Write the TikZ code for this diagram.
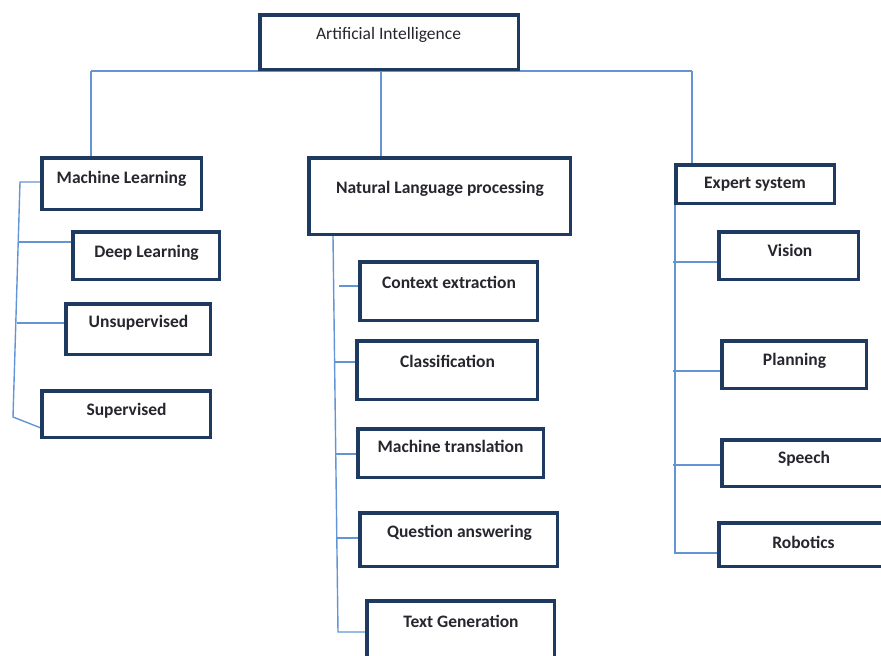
\documentclass[tikz,border=0pt]{standalone}
\usepackage{fontspec}
\setmainfont{Carlito}
\usetikzlibrary{backgrounds}
\definecolor{navy}{HTML}{1F3A60}
\definecolor{lblue}{HTML}{6395D6}
\definecolor{txt}{HTML}{26262E}
\tikzset{
  boxst/.style={draw=navy, line width=3.5pt, fill=white, inner sep=0pt, outer sep=0pt},
  lbl/.style={text=txt, inner sep=0pt, anchor=base, font=\fontsize{17.5}{20}\selectfont\bfseries},
  conn/.style={draw=lblue, line width=1.4pt},
}
% #1 name, #2 x1, #3 y1, #4 x2, #5 y2, #6 text x, #7 baseline y, #8 text
\newcommand{\mybox}[8]{%
  \node[boxst, minimum width={#4-#2-3.5}, minimum height={#5-#3-3.5}] (#1) at ({(#2+#4)/2},{(#3+#5)/2}) {};
  \node[lbl] (#1-t) at (#6,#7) {#8};
}
\begin{document}
\begin{tikzpicture}[x=1pt,y=-1pt]
\useasboundingbox (0,0) rectangle (881,656);
\clip (0,0) rectangle (881,656);

\mybox{ai}{258}{13}{520}{71}{388.5}{39.5}{\mdseries Artificial Intelligence}

\mybox{ml}{40}{156}{203}{211}{121.5}{183}{Machine Learning}
\mybox{dl}{71}{230}{221}{281}{146.5}{257}{Deep Learning}
\mybox{uns}{64}{302}{212}{356}{138.5}{327}{Unsupervised}
\mybox{sup}{40}{389}{212}{439}{126.5}{415}{Supervised}

\mybox{nlp}{307}{156}{572}{236}{440}{193}{Natural Language processing}
\mybox{ce}{358}{260}{539}{322}{449}{288}{Context extraction}
\mybox{cl}{355}{339}{539}{401}{447.5}{367}{Classification}
\mybox{mt}{356}{427}{545}{479}{450.5}{452}{Machine translation}
\mybox{qa}{358}{511}{559}{568}{459.5}{537}{Question answering}
\mybox{tg}{365}{599}{556}{668}{461}{627}{Text Generation}

\mybox{es}{674}{163}{836}{205}{755}{188.5}{Expert system}
\mybox{vi}{717}{230}{860}{281}{790}{256}{Vision}
\mybox{pl}{720}{339}{868}{390}{794.5}{365}{Planning}
\mybox{sp}{720}{438}{892}{488}{804}{463}{Speech}
\mybox{ro}{717}{521}{892}{568}{803.5}{548}{Robotics}

% junction coordinates
\coordinate (jml) at (91,71);
\coordinate (jnlp) at (381,71);
\coordinate (jes) at (692,71);
\coordinate (mltop) at (20,182);
\coordinate (mlb1) at (19,242);
\coordinate (mlb2) at (17,323);
\coordinate (mlbot) at (13,417);
\coordinate (supin) at (41,428);
\coordinate (nlptop) at (333,236);
\coordinate (nlpb1) at (339,286);
\coordinate (nlpb2) at (334.6,362);
\coordinate (nlpb3) at (335.8,454);
\coordinate (nlpb4) at (336.8,538);
\coordinate (nlpbot) at (338,632);
\coordinate (estop) at (675,205);
\coordinate (esb1) at (673,262);
\coordinate (esb2) at (673,371);
\coordinate (esb3) at (673,465);
\coordinate (esbot) at (675,553);

\begin{scope}[on background layer]
\draw[conn] (jml) -- (jes);
\draw[conn] (jml) -- (ml.north -| jml);
\draw[conn] (jnlp) -- (nlp.north -| jnlp);
\draw[conn] (jes) -- (es.north -| jes);
\draw[conn] (ml.west |- mltop) -- (mltop) -- (mlbot) -- (supin);
\draw[conn] (mlb1) -- (dl.west |- mlb1);
\draw[conn] (mlb2) -- (uns.west |- mlb2);
\draw[conn] (nlptop) -- (nlpbot) -- (tg.west |- nlpbot);
\draw[conn] (nlpb1) -- (ce.west |- nlpb1);
\draw[conn] (nlpb2) -- (cl.west |- nlpb2);
\draw[conn] (nlpb3) -- (mt.west |- nlpb3);
\draw[conn] (nlpb4) -- (qa.west |- nlpb4);
\draw[conn] (estop) -- (esbot) -- (ro.west |- esbot);
\draw[conn] (esb1) -- (vi.west |- esb1);
\draw[conn] (esb2) -- (pl.west |- esb2);
\draw[conn] (esb3) -- (sp.west |- esb3);
\end{scope}
\end{tikzpicture}
\end{document}
